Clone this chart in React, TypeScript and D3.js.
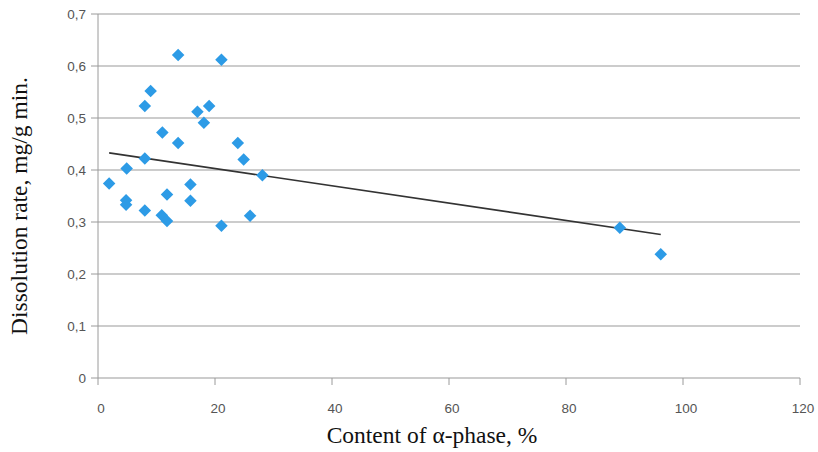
import React from "react";
import * as d3 from "d3";

const alphaContent = [13.7, 21.1, 9.0, 8.0, 17.0, 19.0, 18.1, 11.0, 13.7, 23.9, 24.9, 8.0, 4.9, 28.1, 1.9, 15.8, 11.8, 15.8, 4.8, 4.8, 8.0, 10.9, 11.8, 21.1, 26.0, 89.2, 96.2];
const dissolutionRate = [0.621, 0.612, 0.552, 0.523, 0.512, 0.523, 0.491, 0.472, 0.452, 0.452, 0.42, 0.422, 0.403, 0.39, 0.374, 0.372, 0.353, 0.341, 0.342, 0.333, 0.322, 0.313, 0.302, 0.293, 0.312, 0.289, 0.238];
const trendX = [1.9, 96.2];
const trendY = [0.433, 0.276];
const xTicks = [0, 20, 40, 60, 80, 100, 120];
const yTicks = [0, 0.1, 0.2, 0.3, 0.4, 0.5, 0.6, 0.7];
const xTickLabels = ["0", "20", "40", "60", "80", "100", "120"];
const yTickLabels = ["0", "0,1", "0,2", "0,3", "0,4", "0,5", "0,6", "0,7"];

const W = 818, H = 452;
const M = { left: 98, right: 800, top: 14, bottom: 378 };

export default function App() {
  const x = d3.scaleLinear().domain([0, 120]).range([M.left, M.right]);
  const y = d3.scaleLinear().domain([0, 0.7]).range([M.bottom, M.top]);
  const diamond = d3.symbol().type(d3.symbolDiamond2).size(100)();
  const line = d3.line<number>().x((d, i) => x(trendX[i])).y((d) => y(d));
  const tickFont = "'Liberation Sans', Arial, sans-serif";
  const titleFont = "'Liberation Serif', 'Times New Roman', serif";
  return (
    <svg width={W} height={H} style={{ position: "absolute", left: 0, top: 0, background: "#fff" }}>
      {yTicks.map((t, i) => (
        <g key={"y" + i}>
          {t > 0 && <line x1={M.left} x2={M.right} y1={y(t)} y2={y(t)} stroke="#9a9a9a" strokeWidth={1.2} />}
          <line x1={M.left - 7} x2={M.left} y1={y(t)} y2={y(t)} stroke="#9a9a9a" strokeWidth={1} />
          <text x={M.left - 12} y={y(t) + 4.5} textAnchor="end" fontFamily={tickFont} fontSize={13.5} fill="#555">{yTickLabels[i]}</text>
        </g>
      ))}
      <line x1={M.left} x2={M.left} y1={M.top} y2={M.bottom} stroke="#9a9a9a" strokeWidth={1} />
      <line x1={M.left} x2={M.right} y1={M.bottom} y2={M.bottom} stroke="#9a9a9a" strokeWidth={1.2} />
      {xTicks.map((t, i) => (
        <g key={"x" + i}>
          <line x1={x(t)} x2={x(t)} y1={M.bottom} y2={M.bottom + 7} stroke="#9a9a9a" strokeWidth={1} />
          <text x={x(t) + 3} y={M.bottom + 35} textAnchor="middle" fontFamily={tickFont} fontSize={13.5} fill="#555">{xTickLabels[i]}</text>
        </g>
      ))}
      <path d={line(trendY) || ""} fill="none" stroke="#333" strokeWidth={1.6} />
      {alphaContent.map((v, i) => (
        <path key={"p" + i} d={diamond || ""} transform={`translate(${x(v)},${y(dissolutionRate[i])})`} fill="#2d9be6" />
      ))}
      <text x={432} y={443} textAnchor="middle" fontFamily={titleFont} fontSize={23.5} fill="#111">Content of α-phase, %</text>
      <text transform={`translate(27,206) rotate(-90)`} textAnchor="middle" fontFamily={titleFont} fontSize={23.5} fill="#111">Dissolution rate, mg/g min.</text>
    </svg>
  );
}
